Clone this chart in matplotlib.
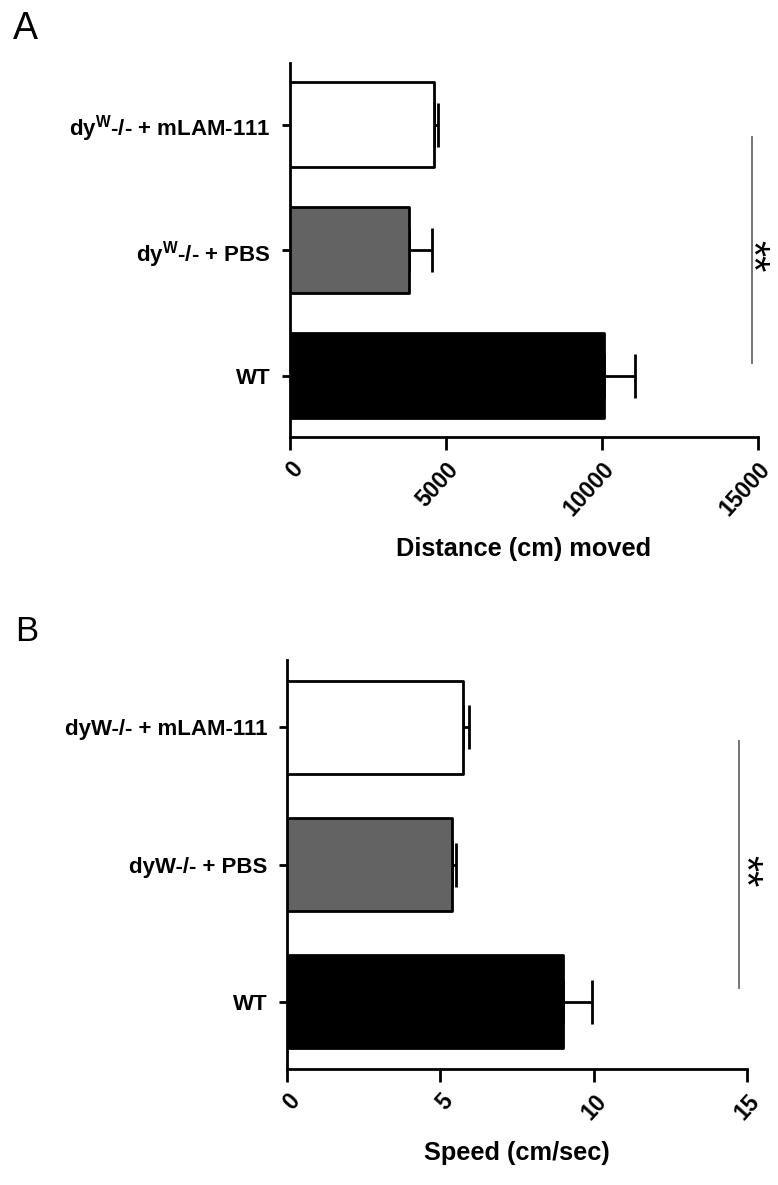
import matplotlib
matplotlib.use("Agg")
import matplotlib.pyplot as plt
from matplotlib import font_manager

# ---------------------------------------------------------
# Data: open field test, three groups (bottom -> top)
# ---------------------------------------------------------
groups_a = ["WT", r"dy$^{\mathbf{W}}$-/- + PBS", r"dy$^{\mathbf{W}}$-/- + mLAM-111"]
groups_b = ["WT", "dyW-/- + PBS", "dyW-/- + mLAM-111"]

distance = [10050, 3800, 4600]
distance_sem = [1000, 750, 150]

speed = [9.0, 5.38, 5.74]
speed_sem = [0.95, 0.12, 0.2]

colors = ["black", "#636363", "white"]

# ---------------------------------------------------------
# Fonts
# ---------------------------------------------------------
names = {f.name for f in font_manager.fontManager.ttflist}
if "Liberation Sans Narrow" in names:
    lab_font = "Liberation Sans Narrow"
    lab_size, tick_size, xl_size = 18, 18, 20
else:
    lab_font = "Liberation Sans"
    lab_size, tick_size, xl_size = 16, 16.5, 18.3

plt.rcParams["font.family"] = [lab_font, "DejaVu Sans"]
plt.rcParams["mathtext.fontset"] = "custom"
plt.rcParams["mathtext.rm"] = lab_font + ":bold"
plt.rcParams["mathtext.bf"] = lab_font + ":bold"
plt.rcParams["mathtext.it"] = lab_font + ":bold"

fig = plt.figure(figsize=(7.78, 11.85), dpi=100)


def panel(rect, labels, vals, errs, xmax, xticks, xlabel, sig_x, star_x):
    ax = fig.add_axes(rect)
    pos = list(range(len(vals)))
    ax.barh(pos, vals, height=0.68, color=colors, edgecolor="black",
            linewidth=2.0, joinstyle="round", zorder=3)
    ax.errorbar(vals, pos, xerr=[[0] * len(vals), errs], fmt="none",
                ecolor="black", elinewidth=2.0, capsize=16, capthick=2.0,
                zorder=2)
    ax.set_xlim(0, xmax)
    ax.set_ylim(-0.49, 2.49)
    ax.set_yticks(pos)
    ax.set_yticklabels(labels, fontsize=lab_size, fontweight="bold")
    ax.set_xticks(xticks)
    ax.set_xticklabels([str(t) for t in xticks], fontsize=tick_size,
                       fontweight="bold", rotation=48, ha="right",
                       va="top", rotation_mode="anchor")
    ax.set_xlabel(xlabel, fontsize=xl_size, fontweight="bold", labelpad=12)
    for s in ["top", "right"]:
        ax.spines[s].set_visible(False)
    for s in ["left", "bottom"]:
        ax.spines[s].set_linewidth(2.0)
    ax.tick_params(axis="x", length=9, width=2.0, pad=6)
    ax.tick_params(axis="y", length=6, width=2.0, pad=8)

    # significance bar WT vs dyW PBS/mLAM
    ax.plot([sig_x, sig_x], [0.1, 1.9], color="#6a6a6a", lw=1.3,
            clip_on=False)
    ax.text(star_x, 0.95, "**", rotation=-90, fontsize=30,
            family="Liberation Sans", ha="center", va="baseline",
            rotation_mode="anchor", clip_on=False)
    return ax


panel([0.3728, 0.6312, 0.6015, 0.3156], groups_a, distance, distance_sem,
      15000, [0, 5000, 10000, 15000], "Distance (cm) moved", 14820, 14390)
panel([0.3689, 0.0979, 0.5913, 0.3451], groups_b, speed, speed_sem,
      15, [0, 5, 10, 15], "Speed (cm/sec)", 14.74, 14.51)

fig.text(0.016, 0.967, "A", fontsize=27, family="Liberation Sans",
         ha="left", va="baseline")
fig.text(0.020, 0.459, "B", fontsize=25, family="Liberation Sans",
         ha="left", va="baseline")

fig.savefig("out.png", dpi=100)
